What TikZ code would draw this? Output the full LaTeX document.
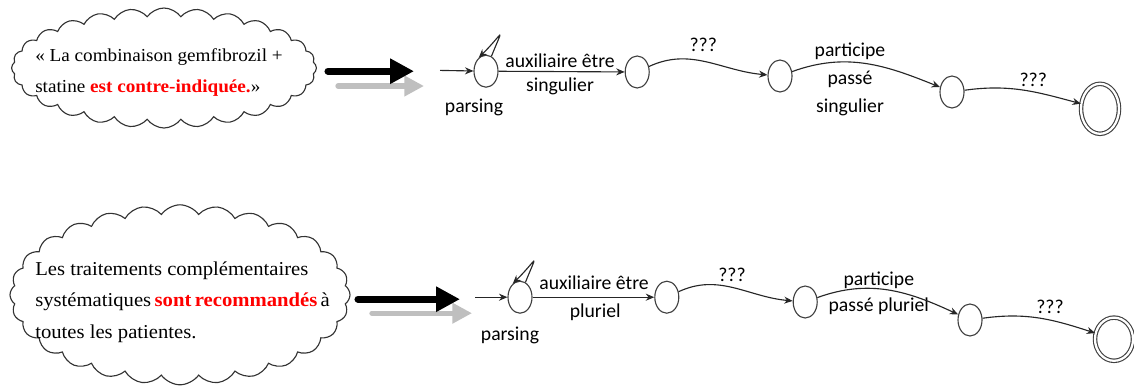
\documentclass[tikz,border=0pt]{standalone}
\usepackage{fontspec}
\setmainfont{Carlito}
\newfontfamily\cloudfont[FakeStretch=1.05]{Liberation Serif}
\usetikzlibrary{shapes.geometric,shapes.symbols,arrows.meta}
\begin{document}
\begin{tikzpicture}[
    every node/.style={font=\fontsize{14}{17}\selectfont},
    bulle/.style={draw, cloud, cloud puffs=28, cloud puff arc=110, cloud ignores aspect, thick, black!80},
    phrase/.style={font=\cloudfont\fontsize{13}{22}\selectfont, align=left, anchor=west, inner sep=0pt},
    etat/.style={draw, ellipse, black!75, thick, minimum width=0.6cm, minimum height=0.8cm, inner sep=0pt},
    final/.style={etat, double, double distance=1.6pt, minimum width=0.95cm, minimum height=1.25cm},
    lbl/.style={align=center, inner sep=1pt},
    big/.style={-{Triangle[length=17pt,width=17pt]}, line width=5pt, line cap=round},
    biggray/.style={big, black!25, line width=3.8pt, -{Triangle[length=14pt,width=14pt]}},
    trans/.style={->, >={Stealth[length=6pt,width=5pt]}, thick, black!85},
]
\useasboundingbox (0,0) rectangle (28.35,-9.75);
% ---- singulier
\node[bulle, minimum width=7.62cm, minimum height=3.0cm] (bulle1) at (4.1,-1.7) {};
\node[phrase] (texte1) at (0.875,-1.81) {« La combinaison gemfibrozil +\\statine \textcolor{red}{\textbf{est contre-indiquée.}}»};
\coordinate (n1) at (8.2,-1.78);
\coordinate (p1) at (10.35,-1.78);
\coordinate (ng1) at (8.45,-2.15);
\coordinate (pg1) at (10.6,-2.15);
\draw[biggray] (ng1) -- (pg1);
\draw[big] (n1) -- (p1);
\coordinate (e1) at (11.0,-1.76);
\node[etat] (a0) at (12.15,-1.78) {};
\node[etat] (a1) at (15.93,-1.8) {};
\node[etat] (a2) at (19.5,-1.9) {};
\node[etat] (a3) at (23.8,-2.3) {};
\node[final] (a4) at (27.5,-2.72) {};
\node (pars1) at (11.85,-2.68) {parsing};
\node[lbl] (aux1) at (14.0,-1.52) {auxiliaire être};
\node[lbl] (sg1) at (14.0,-2.15) {singulier};
\node[lbl] (q11) at (17.58,-1.12) {???};
\node[lbl, text depth=0pt] (pp1) at (21.25,-1.95) {participe\\[3pt]passé\\[3pt]singulier};
\node[lbl] (q12) at (25.83,-2.0) {???};
\draw[trans] (e1) -- (a0);
\draw[trans] (a0.70) to[out=68, in=45, looseness=7] (a0.118);
\draw[trans] (a0) -- (a1);
\draw[trans] (a1) to[out=25, in=175] (a2);
\draw[trans] (a2) to[out=20, in=158] (a3);
\draw[trans] (a3) to[out=8, in=165] (a4);
% ---- pluriel
\node[bulle, minimum width=8.5cm, minimum height=4.5cm] (bulle2) at (4.5,-7.37) {};
\node[phrase, font=\cloudfont\fontsize{14}{22.5}\selectfont] (texte2) at (0.875,-7.55) {Les traitements complémentaires\\\makebox[7.3cm][s]{systématiques \textcolor{red}{\textbf{sont recommandés}} à}\\toutes les patientes.};
\coordinate (n2) at (8.95,-7.48);
\coordinate (p2) at (11.5,-7.48);
\coordinate (ng2) at (9.3,-7.83);
\coordinate (pg2) at (11.8,-7.83);
\draw[biggray] (ng2) -- (pg2);
\draw[big] (n2) -- (p2);
\coordinate (e2) at (11.88,-7.43);
\node[etat] (b0) at (13.0,-7.43) {};
\node[etat] (b1) at (16.67,-7.43) {};
\node[etat] (b2) at (20.13,-7.55) {};
\node[etat] (b3) at (24.25,-8.0) {};
\node[final, minimum width=0.95cm, minimum height=1.08cm] (b4) at (27.85,-8.48) {};
\node (pars2) at (12.75,-8.38) {parsing};
\node[lbl] (aux2) at (14.85,-7.08) {auxiliaire être};
\node[lbl] (pl2) at (14.88,-7.8) {pluriel};
\node[lbl] (q21) at (18.3,-6.88) {???};
\node[lbl] (pp2) at (21.97,-7.33) {participe\\[1pt]passé pluriel};
\node[lbl] (q22) at (26.25,-7.68) {???};
\draw[trans] (e2) -- (b0);
\draw[trans] (b0.70) to[out=68, in=45, looseness=7] (b0.118);
\draw[trans] (b0) -- (b1);
\draw[trans] (b1) to[out=25, in=175] (b2);
\draw[trans] (b2) to[out=20, in=155] (b3);
\draw[trans] (b3) to[out=8, in=162] (b4);
\end{tikzpicture}
\end{document}
